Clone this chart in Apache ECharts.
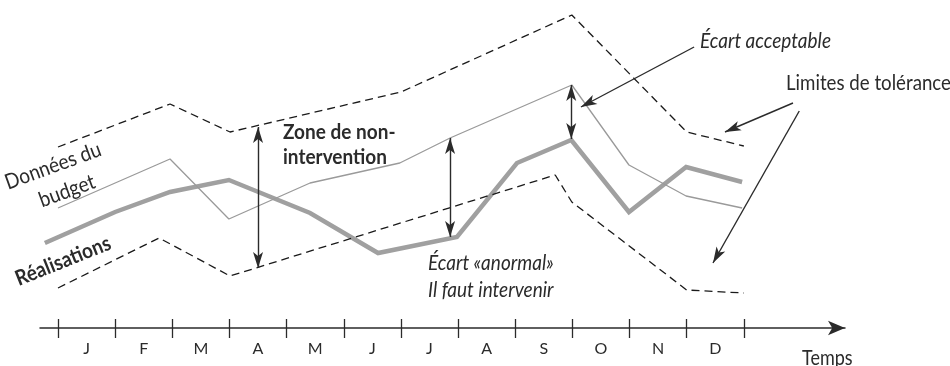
<!DOCTYPE html>
<html>
<head>
<meta charset="utf-8">
<script src="https://cdn.jsdelivr.net/npm/echarts@6/dist/echarts.min.js"></script>
<style>
  html, body { margin: 0; padding: 0; background: #fff; }
  #chart { width: 950px; height: 366px; }
</style>
</head>
<body>
<div id="chart"></div>
<script>
// Month letters shown between the ticks of the time axis
const months = ['J', 'F', 'M', 'A', 'M', 'J', 'J', 'A', 'S', 'O', 'N', 'D'];
// Month boundaries carrying a tick (0 = start of January)
const monthTicks = [0, 1, 2, 3, 4, 5, 6, 7, 8, 9, 10, 11, 12];

// Budget data (thin grey line): time in months, value in budget units
const budgetT = [0, 1.0, 1.96, 2.99, 4.41, 5.98, 6.86, 8.99, 9.99, 10.99, 11.97];
const budgetV = [12.0, 14.5, 16.9, 10.9, 14.5, 16.5, 19.0, 24.3, 16.3, 13.2, 12.0];

// Actual results (thick grey line)
const actualT = [-0.23, 1.0, 1.96, 2.99, 4.41, 5.6, 6.98, 8.03, 8.98, 9.99, 10.99, 11.97];
const actualV = [8.5, 11.6, 13.6, 14.8, 11.5, 7.5, 9.1, 16.5, 18.8, 11.6, 16.1, 14.6];

// Upper tolerance limit (dashed)
const upperT = [0, 1.96, 3.01, 6.0, 8.99, 11.0, 12.0];
const upperV = [18.1, 22.4, 19.6, 23.6, 31.3, 19.6, 18.2];

// Lower tolerance limit (dashed)
const lowerT = [0, 1.77, 3.01, 8.7, 8.99, 11.0, 12.0];
const lowerV = [4.0, 9.0, 5.2, 15.3, 12.6, 3.8, 3.5];

// Annotation arrows: [t1, v1, t2, v2, arrow at start?, arrow at end?]
const arrows = [
  [3.5, 20.1, 3.5, 6.0, true, true],     // zone de non-intervention
  [6.86, 19.0, 6.86, 9.1, true, true],   // écart anormal
  [8.98, 24.3, 8.98, 18.9, true, true],  // écart acceptable
  [11.13, 28.1, 9.15, 22.1, false, true],
  [12.86, 22.5, 11.67, 19.6, false, true],
  [12.97, 21.7, 11.46, 6.5, false, true]
];

const zip = (t, v) => t.map((x, i) => [x, v[i]]);

const INK = '#2b2b2b';
const FONT = 'Lato, "Open Sans", sans-serif';

const chart = echarts.init(document.getElementById('chart'), null, { renderer: 'canvas' });

function text(str, x, y, opts) {
  opts = opts || {};
  return {
    type: 'text',
    x: x, y: y,
    rotation: opts.rotation || 0,
    scaleY: opts.scaleY || 1.12,
    z: 100,
    style: {
      text: str,
      fill: INK,
      font: (opts.style || '') + ' ' + (opts.weight || 'normal') + ' ' + (opts.size || 19) + 'px ' + FONT,
      textAlign: opts.align || 'left',
      textVerticalAlign: 'middle'
    }
  };
}

const option = {
  animation: false,
  grid: { left: 40, right: 105, top: 0, bottom: 38 },
  xAxis: [
    {
      type: 'value',
      min: -0.315,
      max: 13.77,
      position: 'bottom',
      splitLine: { show: false },
      axisLine: {
        show: true,
        lineStyle: { color: INK, width: 1.5 },
        symbol: ['none', 'arrow'],
        symbolSize: [11, 17]
      },
      axisTick: {
        show: true,
        customValues: monthTicks,
        length: 10,
        inside: false,
        lineStyle: { color: INK, width: 1.3 }
      },
      axisLabel: {
        show: true,
        customValues: monthTicks.slice(0, 12).map(m => m + 0.5),
        formatter: v => months[Math.floor(v)],
        margin: 13,
        color: INK,
        fontSize: 16,
        fontFamily: FONT
      }
    },
    {
      type: 'value',
      min: -0.315,
      max: 13.77,
      position: 'bottom',
      splitLine: { show: false },
      axisLine: { show: false },
      axisTick: {
        show: true,
        customValues: monthTicks,
        length: 9,
        inside: true,
        lineStyle: { color: INK, width: 1.3 }
      },
      axisLabel: { show: false }
    }
  ],
  yAxis: { type: 'value', min: 0, max: 32.8, show: false },
  series: [
    {
      name: 'Données du budget',
      type: 'line',
      data: zip(budgetT, budgetV),
      symbol: 'none',
      lineStyle: { color: '#9a9a9a', width: 1.3 },
      z: 3
    },
    {
      name: 'Réalisations',
      type: 'line',
      data: zip(actualT, actualV),
      symbol: 'none',
      lineStyle: { color: '#a0a0a0', width: 4.5, join: 'miter' },
      z: 2
    },
    {
      name: 'Limite supérieure',
      type: 'line',
      data: zip(upperT, upperV),
      symbol: 'none',
      lineStyle: { color: '#1a1a1a', width: 1.3, type: [8, 5] },
      z: 4
    },
    {
      name: 'Limite inférieure',
      type: 'line',
      data: zip(lowerT, lowerV),
      symbol: 'none',
      lineStyle: { color: '#1a1a1a', width: 1.3, type: [8, 5] },
      z: 4
    },
    {
      name: 'Flèches',
      type: 'line',
      data: [],
      z: 6,
      markLine: {
        silent: true,
        animation: false,
        symbolSize: [7.5, 16],
        label: { show: false },
        lineStyle: { color: INK, width: 1.4, type: 'solid' },
        emphasis: { disabled: true },
        data: arrows.map(a => [
          { coord: [a[0], a[1]], symbol: a[4] ? 'arrow' : 'none' },
          { coord: [a[2], a[3]], symbol: a[5] ? 'arrow' : 'none' }
        ])
      }
    }
  ],
  graphic: [
    text('Écart acceptable', 700, 41, { style: 'italic' }),
    text('Limites de tolérance', 786, 83, { size: 18.7 }),
    text('Zone de non-', 283, 132, { weight: 'bold' }),
    text('intervention', 283, 157, { weight: 'bold' }),
    text('Écart «anormal»', 428, 263, { style: 'italic' }),
    text('Il faut intervenir', 428, 290, { style: 'italic' }),
    text('Temps', 802, 358, { size: 18 }),
    text('Données du', 53, 166, { rotation: 0.35, align: 'center' }),
    text('budget', 67, 191, { rotation: 0.35, align: 'center' }),
    text('Réalisations', 63, 261, { rotation: 0.38, align: 'center', weight: 'bold' })
  ]
};

chart.setOption(option);
</script>
</body>
</html>
